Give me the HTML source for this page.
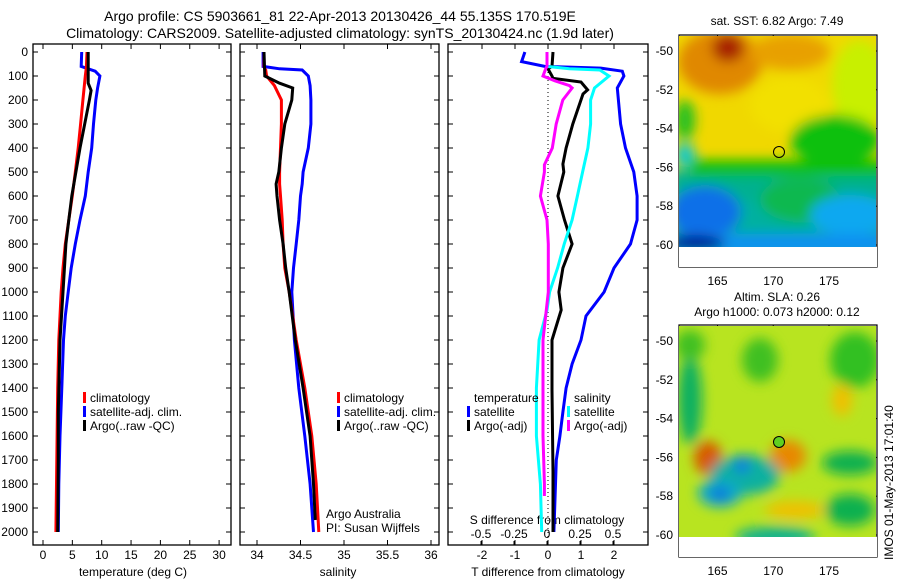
<!DOCTYPE html>
<html><head><meta charset="utf-8"><style>
body{margin:0;background:#fff;}
svg{display:block;font-family:"Liberation Sans",sans-serif;}
text{fill:#000;}
</style></head><body>
<svg id="fig" width="900" height="580" viewBox="0 0 900 580" xmlns="http://www.w3.org/2000/svg">
<defs>
<filter id="bl" x="-50%" y="-50%" width="200%" height="200%"><feGaussianBlur stdDeviation="6"/></filter>
<clipPath id="c1"><rect x="679" y="36" width="197" height="211"/></clipPath>
<clipPath id="c2"><rect x="679" y="326" width="197" height="211"/></clipPath>
</defs>
<text x="340" y="21" font-size="14" text-anchor="middle">Argo profile: CS 5903661_81 22-Apr-2013 20130426_44 55.135S 170.519E</text>
<text x="340" y="38" font-size="14" text-anchor="middle">Climatology: CARS2009. Satellite-adjusted climatology: synTS_20130424.nc (1.9d later)</text>
<g id="plots"></g>

<!-- Map 1 SST -->
<g>
<g clip-path="url(#c1)">
<rect x="679" y="36" width="197" height="211" fill="#f0d800"/>
<g filter="url(#bl)">
<rect x="670" y="170" width="220" height="90" fill="#00b0a0"/>
<ellipse cx="720" cy="62" rx="42" ry="32" fill="#e08800"/>
<ellipse cx="728" cy="48" rx="16" ry="14" fill="#a82000"/>
<ellipse cx="790" cy="52" rx="40" ry="18" fill="#e8a000"/>
<ellipse cx="790" cy="105" rx="40" ry="28" fill="#f2e000"/>
<ellipse cx="860" cy="85" rx="28" ry="45" fill="#c8f000"/>
<ellipse cx="835" cy="140" rx="45" ry="25" fill="#10c010"/>
<ellipse cx="685" cy="120" rx="10" ry="20" fill="#20c020"/>
<ellipse cx="685" cy="155" rx="10" ry="12" fill="#10c8d0"/>
<rect x="690" y="160" width="200" height="22" fill="#10c000"/>
<rect x="670" y="176" width="220" height="24" fill="#00b090"/>
<ellipse cx="800" cy="200" rx="40" ry="22" fill="#10b850"/>
<ellipse cx="705" cy="212" rx="36" ry="26" fill="#1070e8"/>
<ellipse cx="850" cy="215" rx="40" ry="20" fill="#10a8f0"/>
<rect x="670" y="234" width="220" height="20" fill="#1090f0"/>
<ellipse cx="695" cy="243" rx="30" ry="8" fill="#001090"/>
</g>
</g>
<rect x="679" y="247" width="198" height="20" fill="#fff"/>
<circle cx="779" cy="152" r="5.5" fill="none" stroke="#000" stroke-width="1"/>
<text x="777" y="25" font-size="12" text-anchor="middle">sat. SST: 6.82 Argo: 7.49</text>
</g>
<!-- Map 2 SLA -->
<g>
<g clip-path="url(#c2)">
<rect x="679" y="326" width="197" height="211" fill="#b8e420"/>
<g filter="url(#bl)">
<ellipse cx="690" cy="400" rx="12" ry="45" fill="#10b060"/>
<ellipse cx="760" cy="360" rx="18" ry="22" fill="#40c020"/>
<ellipse cx="690" cy="345" rx="15" ry="15" fill="#40c020"/>
<ellipse cx="855" cy="360" rx="25" ry="28" fill="#30c020"/>
<ellipse cx="842" cy="400" rx="10" ry="16" fill="#f0c000"/>
<ellipse cx="708" cy="458" rx="14" ry="17" fill="#d85800"/>
<ellipse cx="788" cy="456" rx="18" ry="16" fill="#e88800"/>
<ellipse cx="745" cy="475" rx="35" ry="20" fill="#10b0a0"/>
<ellipse cx="720" cy="493" rx="22" ry="14" fill="#10a8c8"/>
<ellipse cx="742" cy="465" rx="8" ry="9" fill="#1080e0"/>
<ellipse cx="720" cy="494" rx="8" ry="7" fill="#1070e0"/>
<ellipse cx="795" cy="510" rx="30" ry="9" fill="#f0c000"/>
<ellipse cx="850" cy="510" rx="25" ry="16" fill="#10b050"/>
<ellipse cx="850" cy="463" rx="28" ry="12" fill="#10b050"/>
<ellipse cx="775" cy="537" rx="40" ry="10" fill="#10b090"/>
</g>
</g>
<rect x="679" y="537" width="198" height="20" fill="#fff"/>
<circle cx="779" cy="442" r="5.5" fill="#60d020" stroke="#000" stroke-width="1"/>
<text x="777" y="301" font-size="12" text-anchor="middle">Altim. SLA: 0.26</text>
<text x="777" y="316" font-size="12" text-anchor="middle">Argo h1000: 0.073 h2000: 0.12</text>
</g>
<text x="0" y="0" font-size="12" transform="translate(893,560) rotate(-90)">IMOS 01-May-2013 17:01:40</text>
</svg>
<script>
// ---------- data ----------
const tDepth=[0,60,80,100,150,200,300,400,500,600,700,800,900,1000,1100,1200,1400,1600,1800,2000];
const tClim=[7.5,7.4,7.3,7.2,7.0,6.8,6.4,6.0,5.5,5.0,4.4,3.8,3.4,3.1,2.9,2.7,2.5,2.4,2.3,2.2];
const tSat=[6.6,6.5,8.9,9.7,9.3,9.0,8.6,8.3,7.7,7.2,6.3,5.5,4.8,4.3,3.8,3.5,3.2,2.9,2.7,2.6];
const tArgoDepth=[0,100,130,160,200,300,400,500,600,700,800,1000,1200,1500,1700,2000];
const tArgo=[7.7,7.7,7.7,8.2,7.9,7.1,6.3,5.6,4.9,4.4,3.9,3.4,2.9,2.6,2.6,2.5];

const sDepth=[0,60,70,75,100,140,200,300,400,500,550,600,700,800,900,1000,1200,1400,1600,1800,2000];
const sClim=[34.08,34.08,34.09,34.1,34.11,34.2,34.28,34.28,34.27,34.26,34.26,34.27,34.29,34.3,34.32,34.37,34.45,34.55,34.63,34.68,34.71];
const sSat=[34.07,34.07,34.26,34.52,34.59,34.61,34.62,34.62,34.59,34.53,34.52,34.5,34.48,34.45,34.42,34.4,34.43,34.48,34.55,34.61,34.65];
const sArgoDepth=[0,100,130,150,200,300,400,500,550,600,700,800,900,1000,1200,1400,1600,1800,1950];
const sArgo=[34.08,34.09,34.26,34.41,34.4,34.32,34.28,34.25,34.22,34.23,34.26,34.3,34.33,34.37,34.44,34.53,34.61,34.65,34.67];

const dDepth=[0,40,60,67,80,100,150,300,400,500,600,700,800,900,1000,1100,1200,1300,1400,1500,1600,1700,2000];
const dTSat=[-0.7,-0.8,-0.1,1.6,2.25,2.3,2.1,2.2,2.35,2.6,2.7,2.7,2.5,2.0,1.7,1.15,1.0,0.73,0.55,0.45,0.36,0.25,0.18];
const dTArgoDepth=[0,60,70,100,110,125,158,175,300,400,467,500,600,700,800,900,1000,1075,1200,1410,1750,2000];
const dTArgo=[0.15,0.12,0,0.12,0.15,1.0,1.2,1.06,0.75,0.55,0.45,0.48,0.3,0.5,0.73,0.45,0.33,0.4,0.12,0.12,0.15,0.15];
const dSDepth=[0,60,70,75,100,150,200,300,400,500,600,700,800,900,1000,1075,1200,1400,1600,1800,2000];
const dSSat=[0,0,0.17,0.4,0.47,0.36,0.33,0.33,0.31,0.27,0.23,0.19,0.13,0.08,0.02,0,-0.06,-0.08,-0.08,-0.05,-0.04];
const dSArgoDepth=[0,60,70,100,120,140,150,200,300,400,470,500,600,700,800,1000,1200,1400,1600,1800,1850];
const dSArgo=[0,0,-0.01,-0.03,0.06,0.17,0.19,0.12,0.07,0.04,-0.02,-0.02,-0.05,0,0.01,0.01,-0.03,-0.03,-0.03,-0.02,-0.02];

const depthTicks=[0,100,200,300,400,500,600,700,800,900,1000,1100,1200,1300,1400,1500,1600,1700,1800,1900,2000];
const tTicks=[0,5,10,15,20,25,30];
const sTicks=[34,34.5,35,35.5,36];
const dTTicks=[-2,-1,0,1,2];
const dSTicks=[-0.5,-0.25,0,0.25,0.5];

// ---------- scales ----------
const yD=d=>52+0.24*d;
const xT=v=>43+5.87*v;
const xS=v=>257+87*(v-34);
const xDT=v=>548+33*v;
const xDS=v=>547+132*v;
const NS='http://www.w3.org/2000/svg';
const root=document.getElementById('plots');
function mk(tag,attrs,parent){const e=document.createElementNS(NS,tag);for(const k in attrs)e.setAttribute(k,attrs[k]);(parent||root).appendChild(e);return e;}
function txt(x,y,s,anchor,size,parent){const t=mk('text',{x:x,y:y,'font-size':size||12,'text-anchor':anchor||'middle'},parent);t.textContent=s;return t;}

const panels=[[33,231],[240,439],[448,648]];
panels.forEach((p,i)=>{
  const g=mk('g',{});
  
  
  mk('rect',{x:p[0],y:44,width:p[1]-p[0],height:501,fill:'none',stroke:'#000','stroke-width':1.3},g);
  depthTicks.forEach(d=>{
    mk('line',{x1:p[0],x2:p[0]+5,y1:yD(d),y2:yD(d),stroke:'#000'},g);
    mk('line',{x1:p[1]-5,x2:p[1],y1:yD(d),y2:yD(d),stroke:'#000'},g);
  });
});
const yl=mk('g',{});


depthTicks.forEach(d=>txt(28,yD(d)+4,String(d),'end',12,yl));

function xaxis(ticks,fx,ty,name){
  const g=mk('g',{});
  
  
  ticks.forEach(v=>{const x=fx(v);
    mk('line',{x1:x,x2:x,y1:545,y2:540,stroke:'#000'},g);
    mk('line',{x1:x,x2:x,y1:44,y2:49,stroke:'#000'},g);
    txt(x,ty,String(v),'middle',12,g);});
  return g;
}
xaxis(tTicks,xT,559,'temperature-axis');
xaxis(sTicks,xS,559,'salinity-axis');
xaxis(dTTicks,xDT,559,'t-difference-axis');
const sg=mk('g',{});


dSTicks.forEach(v=>{const x=xDS(v);mk('line',{x1:x,x2:x,y1:545,y2:541,stroke:'#000'},sg);txt(x,538,String(v),'middle',12,sg);});
txt(547,524,'S difference from climatology','middle',12,sg);
txt(133,576,'temperature (deg C)');
txt(338,576,'salinity');
txt(548,576,'T difference from climatology');

mk('line',{x1:xDT(0),x2:xDT(0),y1:yD(0),y2:yD(2050),stroke:'#000','stroke-dasharray':'1 3','stroke-width':1});

function series(depths,vals,fx,color,name){
  const pts=depths.map((d,i)=>fx(vals[i]).toFixed(1)+','+yD(d).toFixed(1)).join(' ');
  const l=mk('polyline',{points:pts,fill:'none',stroke:color,'stroke-width':3,'stroke-linejoin':'miter'});
  
  
}
series(tDepth,tSat,xT,'#0000ff','temp-satellite-line');
series(tDepth,tClim,xT,'#ff0000','temp-climatology-line');
series(tArgoDepth,tArgo,xT,'#000','temp-argo-line');
series(sDepth,sSat,xS,'#0000ff','sal-satellite-line');
series(sDepth,sClim,xS,'#ff0000','sal-climatology-line');
series(sArgoDepth,sArgo,xS,'#000','sal-argo-line');
series(dDepth,dTSat,xDT,'#0000ff','tdiff-satellite-line');
series(dTArgoDepth,dTArgo,xDT,'#000','tdiff-argo-line');
series(dSDepth,dSSat,xDS,'#00ffff','sdiff-satellite-line');
series(dSArgoDepth,dSArgo,xDS,'#ff00ff','sdiff-argo-line');

function legend(x,y,items,name){
  const g=mk('g',{});
  
  
  items.forEach((it,i)=>{const yy=y+i*14;
    if(it[1])mk('rect',{x:x,y:yy-5,width:3,height:11,fill:it[1]},g);
    txt(x+7,yy+5,it[0],'start',12,g);});
}
legend(83,397,[['climatology','#ff0000'],['satellite-adj. clim.','#0000ff'],['Argo(..raw -QC)','#000']],'temp-legend');
legend(337,397,[['climatology','#ff0000'],['satellite-adj. clim.','#0000ff'],['Argo(..raw -QC)','#000']],'sal-legend');
legend(467,397,[['temperature',null],['satellite','#0000ff'],['Argo(-adj)','#000']],'tdiff-legend');
legend(567,397,[['salinity',null],['satellite','#00ffff'],['Argo(-adj)','#ff00ff']],'sdiff-legend');
txt(326,518,'Argo Australia','start',12);
txt(326,532,'PI: Susan Wijffels','start',12);

const latTicks=[-50,-52,-54,-56,-58,-60];
const lonTicks=[165,170,175];
[[35,51],[325,341]].forEach((m,i)=>{
  const top=m[0],y50=m[1];
  const g=mk('g',{});
  
  
  mk('rect',{x:679,y:top,width:198,height:232,fill:'none',stroke:'#000','stroke-width':1.2},g);
  latTicks.forEach(l=>{const y=y50+(-50-l)*19.4;
    mk('line',{x1:679,x2:684,y1:y,y2:y,stroke:'#000'},g);
    mk('line',{x1:872,x2:877,y1:y,y2:y,stroke:'#000'},g);
    txt(673,y+4,String(l),'end',12,g);});
  lonTicks.forEach(l=>{const x=717.5+(l-165)*11.15;
    mk('line',{x1:x,x2:x,y1:top+232,y2:top+227,stroke:'#000'},g);
    mk('line',{x1:x,x2:x,y1:top,y2:top+5,stroke:'#000'},g);
    txt(x,top+250,String(l),'middle',12,g);});
});
</script>
</body></html>
